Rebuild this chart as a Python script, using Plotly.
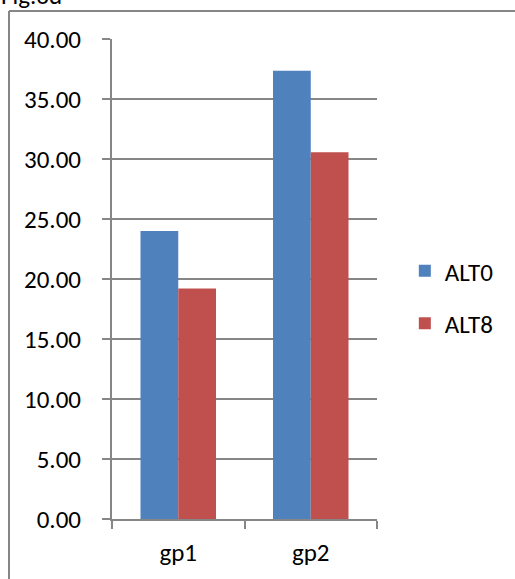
import plotly.graph_objects as go

categories = ["gp1", "gp2"]
alt0 = [24.0, 37.36]
alt8 = [19.2, 30.56]
series_names = ["ALT0", "ALT8"]
title_text = "Fig.6d"

GRID = "#868686"
FONT = "Carlito, Lato, sans-serif"
FS = 25

fig = go.Figure()
fig.add_trace(go.Bar(x=categories, y=alt0, name=series_names[0], marker_color="#4F81BD",
                     marker_line_width=0, legendgroup="a"))
fig.add_trace(go.Bar(x=categories, y=alt8, name=series_names[1], marker_color="#C0504D",
                     marker_line_width=0, legendgroup="b"))

fig.update_layout(
    width=515, height=579,
    margin=dict(l=112, r=138, t=39, b=60),
    paper_bgcolor="white", plot_bgcolor="white",
    font=dict(family=FONT, size=FS, color="black"),
    barmode="group", bargap=0.43, bargroupgap=0,
    showlegend=True,
    legend=dict(x=1.105, xanchor="left", y=0.4625, yanchor="middle",
                traceorder="grouped", tracegroupgap=17,
                font=dict(family=FONT, size=FS, color="black"),
                bgcolor="rgba(0,0,0,0)"),
    xaxis=dict(showline=True, linecolor=GRID, linewidth=2, ticks="outside",
               tickson="boundaries", ticklen=8, tickcolor=GRID, tickwidth=2,
               showgrid=False, ticklabelstandoff=10),
    yaxis=dict(range=[0, 40], dtick=5, tickformat=".2f", showline=True,
               linecolor=GRID, linewidth=2, ticks="outside", ticklen=8,
               tickcolor=GRID, tickwidth=2, showgrid=True, gridcolor=GRID,
               gridwidth=2, zeroline=False, ticklabelstandoff=16),
    shapes=[
        dict(type="line", xref="paper", yref="paper", x0=-0.3887, x1=2.0,
             y0=1.0583, y1=1.0583, line=dict(color=GRID, width=2)),
        dict(type="line", xref="paper", yref="paper", x0=-0.3887, x1=-0.3887,
             y0=1.0583, y1=-1.0, line=dict(color=GRID, width=2)),
    ],
    annotations=[
        dict(text=title_text, xref="paper", yref="paper", x=-0.425, y=1.055,
             xanchor="left", yanchor="bottom", showarrow=False,
             font=dict(family=FONT, size=FS, color="black")),
    ],
)

fig.write_html("out.html")
